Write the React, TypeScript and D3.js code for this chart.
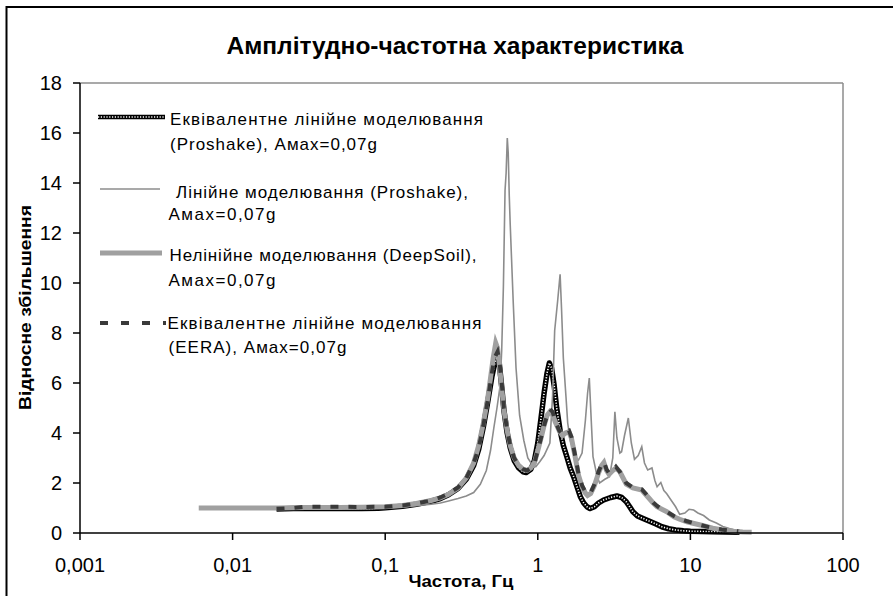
import React from "react";
import * as d3 from "d3";

// Frequency response (amplification ratio vs frequency, Hz)

const xTickValues = [0.001, 0.01, 0.1, 1, 10, 100];
const xTickLabels = ["0,001", "0,01", "0,1", "1", "10", "100"];
const yTickValues = [0, 2, 4, 6, 8, 10, 12, 14, 16, 18];

// Equivalent linear (Proshake)
const eqProFreq = [0.0194, 0.025, 0.03, 0.05, 0.07, 0.09, 0.1, 0.13, 0.16, 0.2, 0.23, 0.26, 0.3, 0.34, 0.38, 0.41, 0.44, 0.47, 0.5, 0.525, 0.545, 0.56, 0.58, 0.6, 0.63, 0.66, 0.7, 0.75, 0.8, 0.84, 0.9, 0.95, 1.0, 1.05, 1.1, 1.15, 1.19, 1.23, 1.28, 1.33, 1.4, 1.47, 1.55, 1.63, 1.73, 1.82, 1.9, 2.0, 2.1, 2.2, 2.35, 2.5, 2.7, 3.0, 3.3, 3.55, 3.8, 4.0, 4.2, 4.5, 4.9, 5.5, 6.0, 6.5, 7.2, 8, 9, 10, 12, 14, 17, 21];
const eqProAmp = [0.96, 0.98, 0.99, 0.98, 0.98, 0.99, 1.01, 1.07, 1.15, 1.27, 1.38, 1.53, 1.78, 2.15, 2.7, 3.35, 4.25, 5.25, 6.25, 6.85, 7.05, 6.75, 5.85, 4.9, 4.0, 3.4, 2.9, 2.6, 2.45, 2.42, 2.55, 2.9, 3.6, 4.6, 5.6, 6.4, 6.8, 6.6, 5.9, 5.0, 4.1, 3.5, 3.05, 2.6, 2.2, 1.8, 1.45, 1.2, 1.05, 0.98, 1.05, 1.2, 1.32, 1.42, 1.48, 1.42, 1.25, 1.05, 0.85, 0.68, 0.58, 0.45, 0.35, 0.25, 0.17, 0.12, 0.09, 0.07, 0.06, 0.05, 0.04, 0.03];

// Linear (Proshake)
const linProFreq = [0.0194, 0.03, 0.05, 0.07, 0.1, 0.13, 0.16, 0.2, 0.23, 0.26, 0.3, 0.34, 0.38, 0.42, 0.46, 0.49, 0.515, 0.54, 0.565, 0.58, 0.595, 0.61, 0.62, 0.631, 0.64, 0.65, 0.66, 0.69, 0.72, 0.76, 0.81, 0.86, 0.92, 0.97, 1.03, 1.1, 1.2, 1.25, 1.29, 1.35, 1.4, 1.43, 1.47, 1.53, 1.57, 1.63, 1.76, 1.85, 1.95, 2.05, 2.12, 2.175, 2.24, 2.3, 2.44, 2.54, 2.75, 2.95, 3.1, 3.2, 3.3, 3.45, 3.54, 3.7, 3.92, 4.1, 4.3, 4.55, 4.8, 5.0, 5.25, 5.6, 5.85, 6.05, 6.4, 6.7, 7.0, 7.5, 8.0, 8.5, 9.2, 9.8, 10.5, 11.2, 12.2, 13.3, 14.8, 16.3, 18, 19.7, 21];
const linProAmp = [0.97, 0.98, 0.98, 0.98, 1.0, 1.04, 1.09, 1.15, 1.2, 1.28, 1.38, 1.48, 1.62, 1.95, 2.5, 3.3, 4.2, 5.0, 5.85, 7.3, 9.85, 13.7, 14.4, 15.8, 15.2, 13.5, 12.3, 9.25, 6.6, 4.7, 3.7, 3.0, 2.72, 2.65, 2.85, 3.1, 3.6, 5.5, 8.1, 9.3, 10.35, 9.0, 7.0, 5.45, 4.4, 3.72, 3.05, 2.92, 3.2, 4.5, 5.6, 6.2, 4.5, 3.05, 2.3, 2.0, 2.15, 2.25, 3.0, 4.85, 3.8, 3.2, 3.25, 3.9, 4.6, 3.6, 2.95, 3.1, 3.45, 2.8, 2.52, 2.6, 2.1, 1.85, 2.02, 1.7, 1.57, 1.3, 1.05, 0.75, 0.8, 0.95, 0.92, 0.8, 0.7, 0.52, 0.4, 0.26, 0.18, 0.12, 0.08];

// Nonlinear (DeepSoil)
const deepSoilFreq = [0.006, 0.01, 0.02, 0.03, 0.05, 0.07, 0.1, 0.13, 0.16, 0.2, 0.23, 0.26, 0.3, 0.34, 0.38, 0.41, 0.44, 0.47, 0.49, 0.51, 0.53, 0.545, 0.56, 0.58, 0.6, 0.63, 0.66, 0.7, 0.75, 0.8, 0.85, 0.9, 0.95, 1.0, 1.05, 1.1, 1.15, 1.2, 1.25, 1.3, 1.38, 1.45, 1.52, 1.6, 1.66, 1.75, 1.85, 1.95, 2.05, 2.12, 2.22, 2.35, 2.5, 2.62, 2.71, 2.82, 2.93, 3.1, 3.25, 3.45, 3.8, 4.2, 4.8, 5.25, 5.7, 6.05, 6.5, 7.0, 7.8, 8.5, 9.5, 10.4, 12, 14, 16, 19, 22, 25.2];
const deepSoilAmp = [1.0, 1.0, 1.0, 1.02, 1.02, 1.03, 1.05, 1.1, 1.18, 1.3, 1.4, 1.55, 1.8, 2.2, 2.8, 3.5, 4.4, 5.4, 6.2, 7.0, 7.6, 7.4, 6.7, 5.8, 4.9, 4.1, 3.5, 3.0, 2.7, 2.55, 2.5, 2.6, 2.8, 3.3, 3.8, 4.3, 4.7, 4.85, 4.75, 4.45, 4.1, 3.9, 4.0, 4.05, 3.8, 3.1, 2.3, 1.85, 1.6, 1.5, 1.58, 1.9, 2.4, 2.7, 2.82, 2.5, 2.35, 2.5, 2.6, 2.45, 1.95, 1.8, 1.72, 1.45, 1.2, 1.05, 0.95, 0.85, 0.65, 0.55, 0.45, 0.39, 0.3, 0.19, 0.13, 0.07, 0.04, 0.03];

// Equivalent linear (EERA)
const eeraFreq = [0.0194, 0.025, 0.03, 0.05, 0.07, 0.1, 0.13, 0.16, 0.2, 0.23, 0.26, 0.3, 0.34, 0.38, 0.41, 0.44, 0.47, 0.5, 0.52, 0.545, 0.56, 0.58, 0.6, 0.63, 0.66, 0.7, 0.75, 0.8, 0.85, 0.9, 0.95, 1.0, 1.05, 1.1, 1.15, 1.2, 1.25, 1.3, 1.38, 1.45, 1.52, 1.6, 1.66, 1.75, 1.85, 1.95, 2.05, 2.12, 2.22, 2.35, 2.5, 2.62, 2.71, 2.82, 2.93, 3.1, 3.25, 3.45, 3.8, 4.2, 4.8, 5.25, 5.7, 6.05, 6.5, 7.0, 7.8, 8.5, 9.5, 10.4, 12, 14, 16, 18, 20.6];
const eeraAmp = [0.97, 1.0, 1.05, 1.05, 1.04, 1.05, 1.1, 1.18, 1.3, 1.42, 1.58, 1.82, 2.2, 2.8, 3.4, 4.3, 5.3, 6.4, 7.0, 7.25, 6.9, 6.0, 5.0, 4.1, 3.5, 3.0, 2.7, 2.55, 2.5, 2.6, 2.8, 3.3, 3.8, 4.3, 4.7, 4.95, 4.85, 4.5, 4.1, 3.95, 4.05, 4.1, 3.85, 3.15, 2.35, 1.9, 1.65, 1.55, 1.62, 1.95, 2.45, 2.75, 2.85, 2.55, 2.4, 2.5, 2.65, 2.45, 2.0, 1.82, 1.75, 1.48, 1.22, 1.08, 0.95, 0.85, 0.68, 0.57, 0.47, 0.4, 0.3, 0.2, 0.14, 0.1, 0.07];

const legendRows = [
  { lines: ["Еквівалентне лінійне моделювання", "(Proshake), Амax=0,07g"] },
  { lines: ["Лінійне моделювання (Proshake),", "Амax=0,07g"] },
  { lines: ["Нелінійне моделювання (DeepSoil),", "Амax=0,07g"] },
  { lines: ["Еквівалентне лінійне моделювання", "(EERA), Амax=0,07g"] },
];

const FONT = "'Liberation Sans', Arial, sans-serif";

const W = 893;
const H = 596;
const left = 80;
const right = 843;
const top = 83;
const bottom = 533;

const x = d3.scaleLog().domain([0.001, 100]).range([left, right]);
const y = d3.scaleLinear().domain([0, 18]).range([bottom, top]);

function toPath(freq: number[], amp: number[]): string {
  const pts: [number, number][] = freq.map((f, i) => [f, amp[i]]);
  return (
    d3
      .line<[number, number]>()
      .x((d) => x(d[0]))
      .y((d) => y(d[1]))(pts) || ""
  );
}

function CheckeredPath({ d, w = 5.5 }: { d: string; w?: number }) {
  return (
    <g fill="none" strokeLinejoin="round">
      <path d={d} stroke="#000" strokeWidth={w} />
      <path d={d} stroke="#fff" strokeWidth={w * 0.3} strokeDasharray="1.2 1.6" />
    </g>
  );
}

export default function App() {
  const pEq = toPath(eqProFreq, eqProAmp);
  const pLin = toPath(linProFreq, linProAmp);
  const pDeep = toPath(deepSoilFreq, deepSoilAmp);
  const pEera = toPath(eeraFreq, eeraAmp);

  // legend swatch geometry and text layout
  const swatchY = [117, 189, 253, 323];
  const textX = [[170, 170], [176, 168.5], [169.5, 168.5], [167.5, 168.5]];
  const textY = [[125, 150], [198, 220], [261, 286], [329, 353]];
  const textLen = [[313, 207], [292, 107], [307, 107], [314, 178]];

  return (
    <svg
      width={W}
      height={H}
      style={{ position: "absolute", left: 0, top: 0, background: "#fff" }}
      fontFamily={FONT}
    >
      <rect x={0} y={0} width={W} height={H} fill="#fff" />
      {/* chart frame */}
      <rect x={6.5} y={7} width={920} height={640} fill="none" stroke="#000" strokeWidth={2} />

      {/* title */}
      <text
        x={455}
        y={53.5}
        textAnchor="middle"
        fontSize={23}
        fontWeight="bold"
        textLength={457}
        lengthAdjust="spacingAndGlyphs"
      >
        Амплітудно-частотна характеристика
      </text>

      {/* plot border */}
      <line x1={left} x2={right} y1={top} y2={top} stroke="#8c8c8c" strokeWidth={1.5} />
      <line x1={right} x2={right} y1={top} y2={bottom} stroke="#8c8c8c" strokeWidth={1.5} />

      {/* series */}
      <CheckeredPath d={pEq} />
      <path d={pLin} fill="none" stroke="#8c8c8c" strokeWidth={1.6} />
      <path d={pDeep} fill="none" stroke="#a0a0a0" strokeWidth={5} />
      <path d={pEera} fill="none" stroke="#3a3a3a" strokeWidth={4} strokeDasharray="8 10" />

      {/* axes */}
      <line x1={left} x2={left} y1={top} y2={bottom} stroke="#000" strokeWidth={1.5} />
      <line x1={left} x2={right} y1={bottom} y2={bottom} stroke="#000" strokeWidth={1.5} />
      {yTickValues.map((v) => (
        <g key={"y" + v}>
          <line x1={left - 7} x2={left} y1={y(v)} y2={y(v)} stroke="#000" strokeWidth={1.5} />
          <text x={62} y={y(v)} dy="0.36em" textAnchor="end" fontSize={20}>
            {v}
          </text>
        </g>
      ))}
      {xTickValues.map((v, i) => (
        <g key={"x" + v}>
          <line x1={x(v)} x2={x(v)} y1={bottom} y2={bottom + 7} stroke="#000" strokeWidth={1.5} />
          <text x={x(v)} y={572} textAnchor="middle" fontSize={20}>
            {xTickLabels[i]}
          </text>
        </g>
      ))}

      {/* axis titles */}
      <text
        x={408.5}
        y={587}
        fontSize={17}
        fontWeight="bold"
        textLength={105}
        lengthAdjust="spacingAndGlyphs"
      >
        Частота, Гц
      </text>
      <text
        transform="translate(30.5,307.5) rotate(-90)"
        textAnchor="middle"
        fontSize={17}
        fontWeight="bold"
        textLength={205}
        lengthAdjust="spacingAndGlyphs"
      >
        Відносне збільшення
      </text>

      {/* legend */}
      <g>
        <CheckeredPath d={`M98,${swatchY[0]}H165`} w={4.5} />
        <line x1={100} x2={160} y1={swatchY[1]} y2={swatchY[1]} stroke="#8c8c8c" strokeWidth={1.6} />
        <line x1={100} x2={162} y1={swatchY[2]} y2={swatchY[2]} stroke="#a0a0a0" strokeWidth={5} />
        <line
          x1={100}
          x2={166}
          y1={swatchY[3]}
          y2={swatchY[3]}
          stroke="#3a3a3a"
          strokeWidth={4}
          strokeDasharray="8 13"
        />
        {legendRows.map((row, r) =>
          row.lines.map((t, k) => (
            <text
              key={r + "-" + k}
              x={textX[r][k]}
              y={textY[r][k]}
              fontSize={17}
              textLength={textLen[r][k]}
              lengthAdjust="spacing"
            >
              {t}
            </text>
          ))
        )}
      </g>
    </svg>
  );
}
